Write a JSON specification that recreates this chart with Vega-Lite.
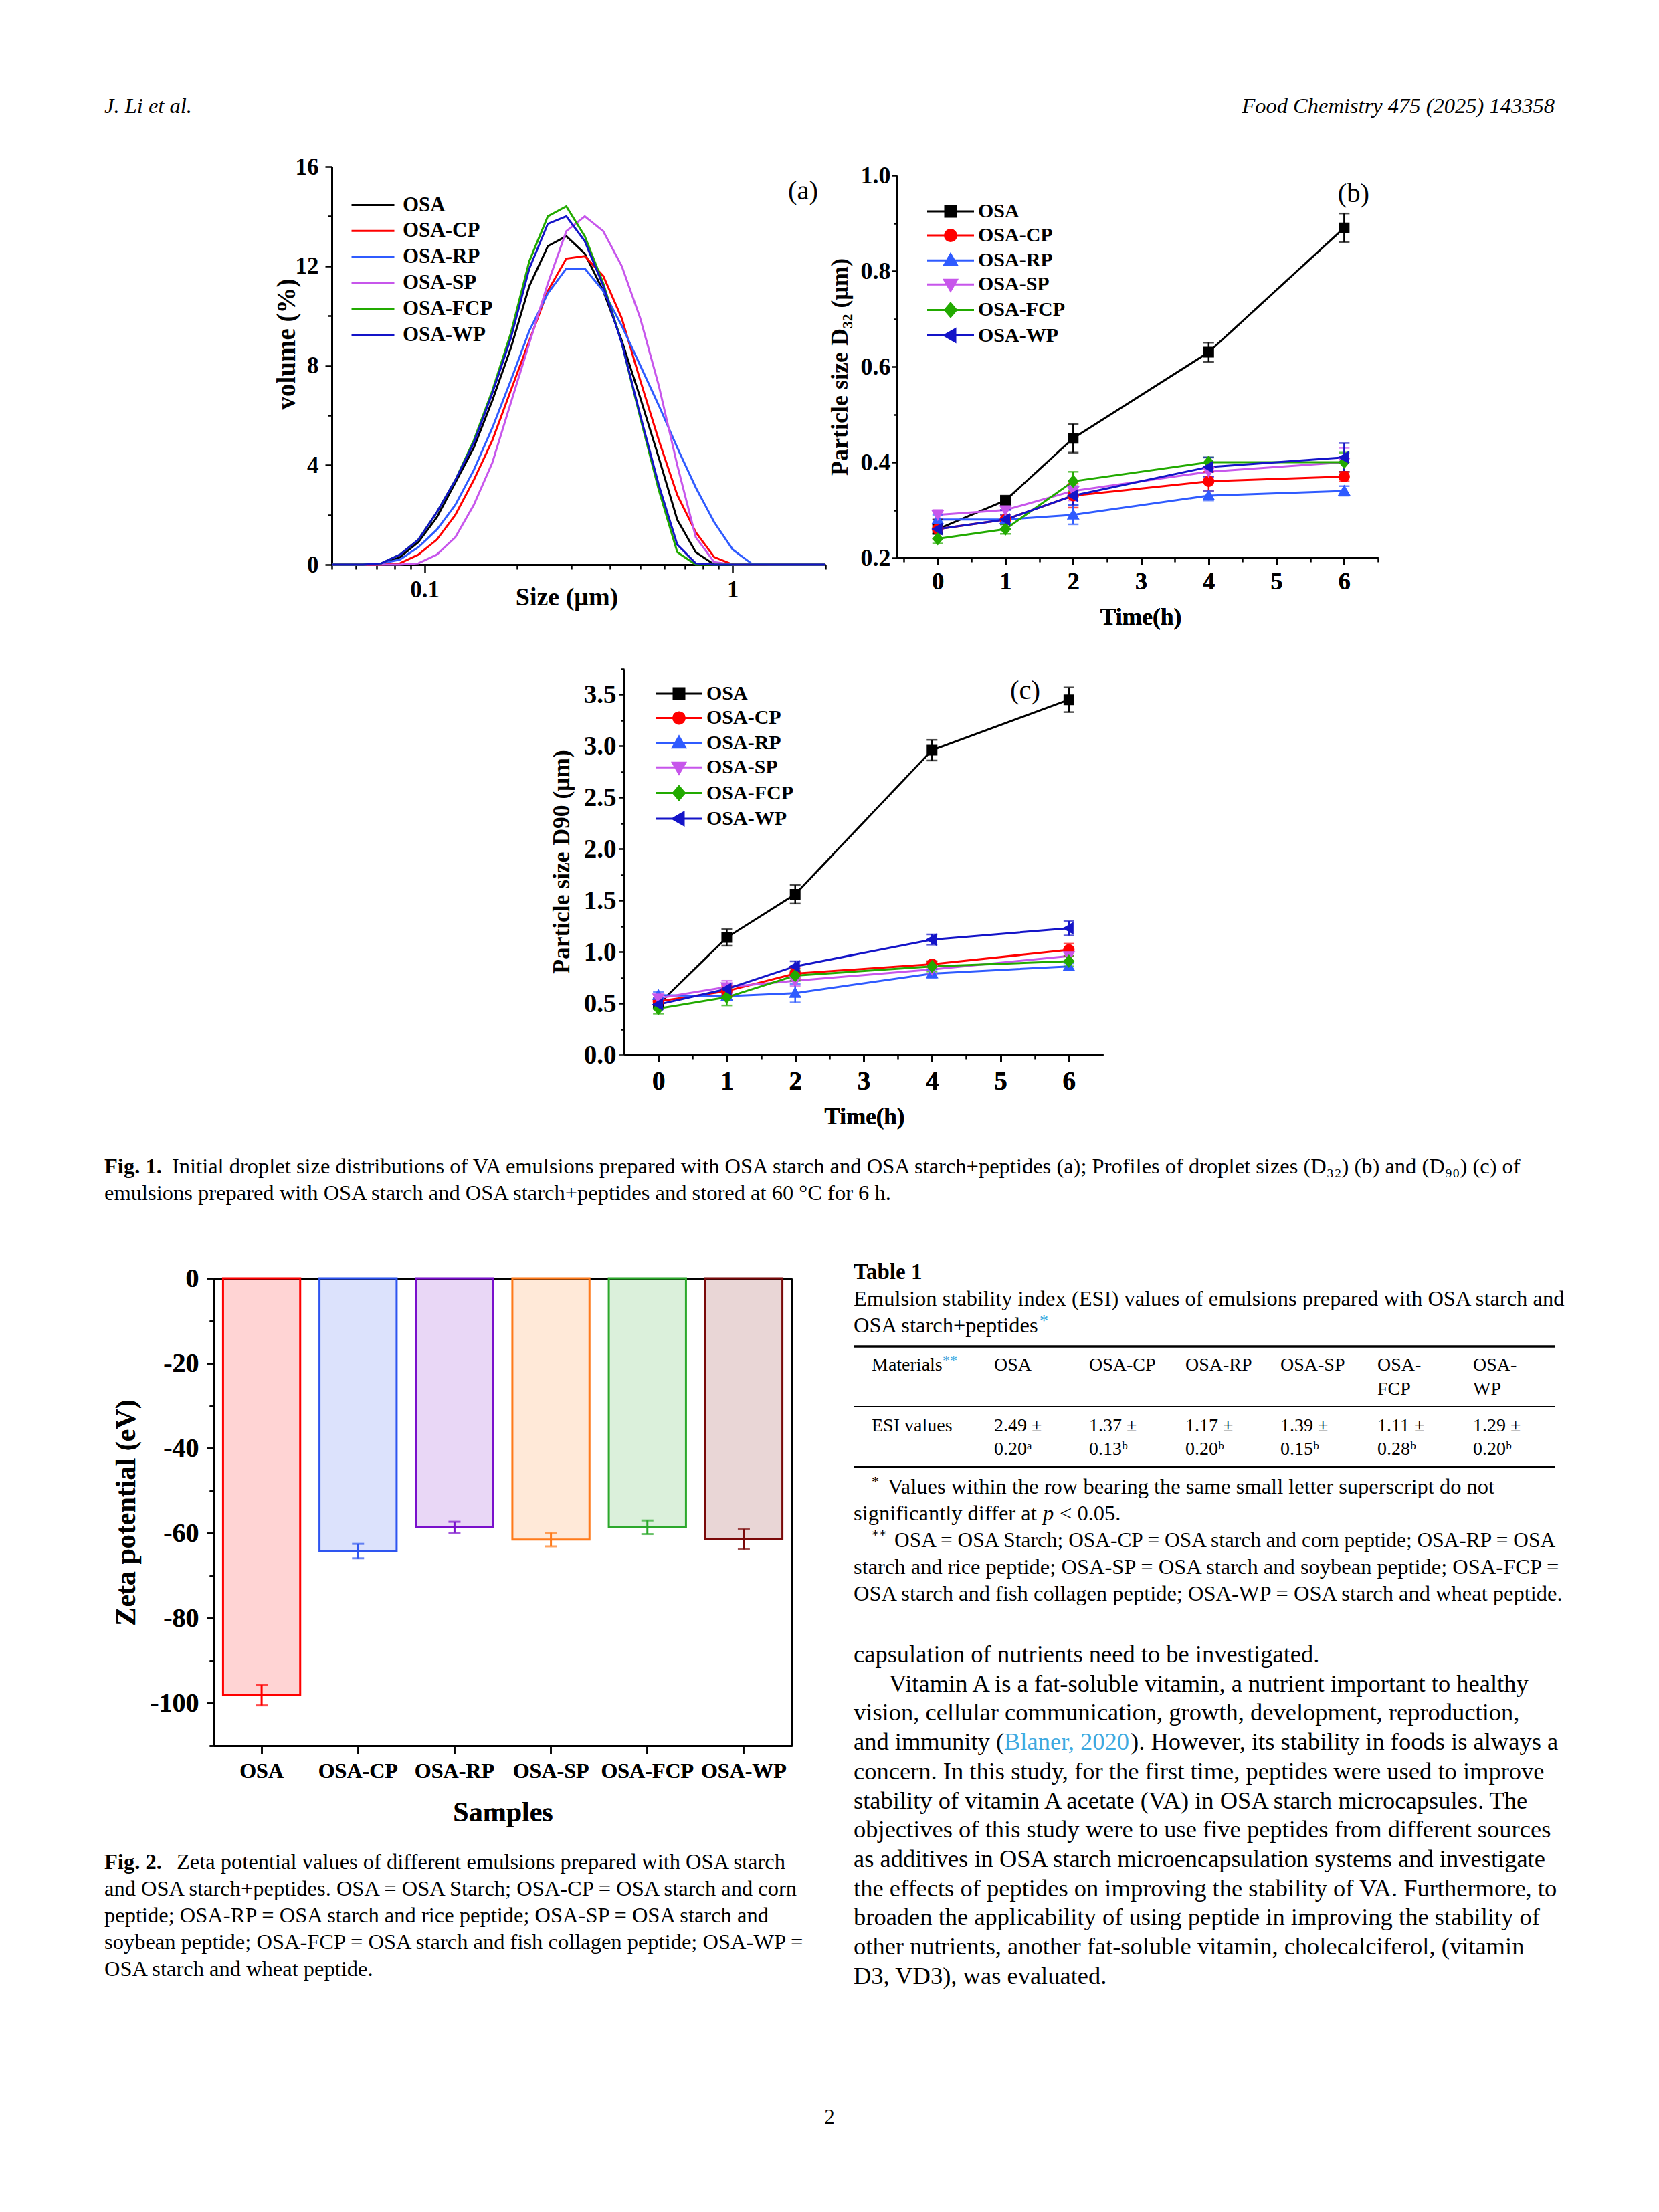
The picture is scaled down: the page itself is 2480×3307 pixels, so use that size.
{
"$schema": "https://vega.github.io/schema/vega-lite/v6.json",
"width": 2480, "height": 3307,
"autosize": {"type": "none"},
"padding": 0,
"background": "white",
"config": {
  "view": {"stroke": null},
  "font": "Liberation Serif",
  "axis": {"labelFont": "Liberation Serif", "titleFont": "Liberation Serif", "labelFontWeight": "bold", "titleFontWeight": "bold", "labelColor": "black", "titleColor": "black", "domainColor": "black", "tickColor": "black", "domainWidth": 3, "tickWidth": 2.5, "grid": false, "labelFlush": false, "labelOverlap": false},
  "legend": {"labelFont": "Liberation Serif", "labelFontWeight": "bold", "labelColor": "black"}
},
"resolve": {
  "scale": {"x": "independent", "y": "independent", "color": "independent", "shape": "independent", "stroke": "independent", "strokeWidth": "independent"},
  "axis": {"x": "independent", "y": "independent"},
  "legend": {"color": "independent", "shape": "independent"}
},
"datasets": {
  "dist": [
    {"s":0.05,"v":0,"g":"OSA"},{"s":0.0631,"v":0,"g":"OSA"},{"s":0.0724,"v":0,"g":"OSA"},{"s":0.0832,"v":0.3,"g":"OSA"},{"s":0.0955,"v":0.9,"g":"OSA"},{"s":0.1096,"v":1.9,"g":"OSA"},{"s":0.1259,"v":3.3,"g":"OSA"},{"s":0.1445,"v":4.7,"g":"OSA"},{"s":0.166,"v":6.6,"g":"OSA"},{"s":0.1905,"v":8.7,"g":"OSA"},{"s":0.2188,"v":11.2,"g":"OSA"},{"s":0.2512,"v":12.8,"g":"OSA"},{"s":0.2884,"v":13.2,"g":"OSA"},{"s":0.3311,"v":12.5,"g":"OSA"},{"s":0.3802,"v":11.0,"g":"OSA"},{"s":0.4365,"v":9.0,"g":"OSA"},{"s":0.5012,"v":6.7,"g":"OSA"},{"s":0.5754,"v":4.3,"g":"OSA"},{"s":0.6607,"v":1.8,"g":"OSA"},{"s":0.7586,"v":0.5,"g":"OSA"},{"s":0.871,"v":0,"g":"OSA"},{"s":1.0,"v":0,"g":"OSA"},{"s":1.148,"v":0,"g":"OSA"},{"s":1.318,"v":0,"g":"OSA"},{"s":2.0,"v":0,"g":"OSA"},
    {"s":0.05,"v":0,"g":"OSA-CP"},{"s":0.0631,"v":0,"g":"OSA-CP"},{"s":0.0724,"v":0,"g":"OSA-CP"},{"s":0.0832,"v":0.05,"g":"OSA-CP"},{"s":0.0955,"v":0.4,"g":"OSA-CP"},{"s":0.1096,"v":1.0,"g":"OSA-CP"},{"s":0.1259,"v":2.0,"g":"OSA-CP"},{"s":0.1445,"v":3.4,"g":"OSA-CP"},{"s":0.166,"v":5.0,"g":"OSA-CP"},{"s":0.1905,"v":7.0,"g":"OSA-CP"},{"s":0.2188,"v":9.0,"g":"OSA-CP"},{"s":0.2512,"v":11.0,"g":"OSA-CP"},{"s":0.2884,"v":12.3,"g":"OSA-CP"},{"s":0.3311,"v":12.4,"g":"OSA-CP"},{"s":0.3802,"v":11.6,"g":"OSA-CP"},{"s":0.4365,"v":9.9,"g":"OSA-CP"},{"s":0.5012,"v":7.4,"g":"OSA-CP"},{"s":0.5754,"v":5.0,"g":"OSA-CP"},{"s":0.6607,"v":2.8,"g":"OSA-CP"},{"s":0.7586,"v":1.3,"g":"OSA-CP"},{"s":0.871,"v":0.3,"g":"OSA-CP"},{"s":1.0,"v":0,"g":"OSA-CP"},{"s":1.148,"v":0,"g":"OSA-CP"},{"s":1.318,"v":0,"g":"OSA-CP"},{"s":2.0,"v":0,"g":"OSA-CP"},
    {"s":0.05,"v":0,"g":"OSA-RP"},{"s":0.0631,"v":0,"g":"OSA-RP"},{"s":0.0724,"v":0.05,"g":"OSA-RP"},{"s":0.0832,"v":0.2,"g":"OSA-RP"},{"s":0.0955,"v":0.7,"g":"OSA-RP"},{"s":0.1096,"v":1.4,"g":"OSA-RP"},{"s":0.1259,"v":2.4,"g":"OSA-RP"},{"s":0.1445,"v":3.8,"g":"OSA-RP"},{"s":0.166,"v":5.5,"g":"OSA-RP"},{"s":0.1905,"v":7.4,"g":"OSA-RP"},{"s":0.2188,"v":9.4,"g":"OSA-RP"},{"s":0.2512,"v":10.9,"g":"OSA-RP"},{"s":0.2884,"v":11.9,"g":"OSA-RP"},{"s":0.3311,"v":11.9,"g":"OSA-RP"},{"s":0.3802,"v":11.0,"g":"OSA-RP"},{"s":0.4365,"v":9.6,"g":"OSA-RP"},{"s":0.5012,"v":8.0,"g":"OSA-RP"},{"s":0.5754,"v":6.4,"g":"OSA-RP"},{"s":0.6607,"v":4.7,"g":"OSA-RP"},{"s":0.7586,"v":3.1,"g":"OSA-RP"},{"s":0.871,"v":1.7,"g":"OSA-RP"},{"s":1.0,"v":0.6,"g":"OSA-RP"},{"s":1.148,"v":0.05,"g":"OSA-RP"},{"s":1.318,"v":0,"g":"OSA-RP"},{"s":2.0,"v":0,"g":"OSA-RP"},
    {"s":0.05,"v":0,"g":"OSA-SP"},{"s":0.0631,"v":0,"g":"OSA-SP"},{"s":0.0724,"v":0,"g":"OSA-SP"},{"s":0.0832,"v":0,"g":"OSA-SP"},{"s":0.0955,"v":0.05,"g":"OSA-SP"},{"s":0.1096,"v":0.4,"g":"OSA-SP"},{"s":0.1259,"v":1.1,"g":"OSA-SP"},{"s":0.1445,"v":2.4,"g":"OSA-SP"},{"s":0.166,"v":4.1,"g":"OSA-SP"},{"s":0.1905,"v":6.5,"g":"OSA-SP"},{"s":0.2188,"v":8.9,"g":"OSA-SP"},{"s":0.2512,"v":11.3,"g":"OSA-SP"},{"s":0.2884,"v":13.4,"g":"OSA-SP"},{"s":0.3311,"v":14.0,"g":"OSA-SP"},{"s":0.3802,"v":13.4,"g":"OSA-SP"},{"s":0.4365,"v":12.0,"g":"OSA-SP"},{"s":0.5012,"v":9.9,"g":"OSA-SP"},{"s":0.5754,"v":7.2,"g":"OSA-SP"},{"s":0.6607,"v":4.0,"g":"OSA-SP"},{"s":0.7586,"v":1.1,"g":"OSA-SP"},{"s":0.871,"v":0.1,"g":"OSA-SP"},{"s":1.0,"v":0,"g":"OSA-SP"},{"s":1.148,"v":0,"g":"OSA-SP"},{"s":1.318,"v":0,"g":"OSA-SP"},{"s":2.0,"v":0,"g":"OSA-SP"},
    {"s":0.05,"v":0,"g":"OSA-FCP"},{"s":0.0631,"v":0,"g":"OSA-FCP"},{"s":0.0724,"v":0.05,"g":"OSA-FCP"},{"s":0.0832,"v":0.4,"g":"OSA-FCP"},{"s":0.0955,"v":1.0,"g":"OSA-FCP"},{"s":0.1096,"v":2.1,"g":"OSA-FCP"},{"s":0.1259,"v":3.4,"g":"OSA-FCP"},{"s":0.1445,"v":5.0,"g":"OSA-FCP"},{"s":0.166,"v":7.0,"g":"OSA-FCP"},{"s":0.1905,"v":9.3,"g":"OSA-FCP"},{"s":0.2188,"v":12.2,"g":"OSA-FCP"},{"s":0.2512,"v":14.0,"g":"OSA-FCP"},{"s":0.2884,"v":14.4,"g":"OSA-FCP"},{"s":0.3311,"v":13.2,"g":"OSA-FCP"},{"s":0.3802,"v":11.3,"g":"OSA-FCP"},{"s":0.4365,"v":8.9,"g":"OSA-FCP"},{"s":0.5012,"v":5.9,"g":"OSA-FCP"},{"s":0.5754,"v":3.0,"g":"OSA-FCP"},{"s":0.6607,"v":0.5,"g":"OSA-FCP"},{"s":0.7586,"v":0,"g":"OSA-FCP"},{"s":0.871,"v":0,"g":"OSA-FCP"},{"s":1.0,"v":0,"g":"OSA-FCP"},{"s":1.148,"v":0,"g":"OSA-FCP"},{"s":1.318,"v":0,"g":"OSA-FCP"},{"s":2.0,"v":0,"g":"OSA-FCP"},
    {"s":0.05,"v":0,"g":"OSA-WP"},{"s":0.0631,"v":0,"g":"OSA-WP"},{"s":0.0724,"v":0.05,"g":"OSA-WP"},{"s":0.0832,"v":0.4,"g":"OSA-WP"},{"s":0.0955,"v":1.0,"g":"OSA-WP"},{"s":0.1096,"v":2.1,"g":"OSA-WP"},{"s":0.1259,"v":3.4,"g":"OSA-WP"},{"s":0.1445,"v":4.9,"g":"OSA-WP"},{"s":0.166,"v":6.9,"g":"OSA-WP"},{"s":0.1905,"v":9.1,"g":"OSA-WP"},{"s":0.2188,"v":11.9,"g":"OSA-WP"},{"s":0.2512,"v":13.7,"g":"OSA-WP"},{"s":0.2884,"v":14.0,"g":"OSA-WP"},{"s":0.3311,"v":13.0,"g":"OSA-WP"},{"s":0.3802,"v":11.2,"g":"OSA-WP"},{"s":0.4365,"v":8.9,"g":"OSA-WP"},{"s":0.5012,"v":6.0,"g":"OSA-WP"},{"s":0.5754,"v":3.2,"g":"OSA-WP"},{"s":0.6607,"v":0.8,"g":"OSA-WP"},{"s":0.7586,"v":0.05,"g":"OSA-WP"},{"s":0.871,"v":0,"g":"OSA-WP"},{"s":1.0,"v":0,"g":"OSA-WP"},{"s":1.148,"v":0,"g":"OSA-WP"},{"s":1.318,"v":0,"g":"OSA-WP"},{"s":2.0,"v":0,"g":"OSA-WP"}
  ],
  "d32": [
    {"t":0,"v":0.26,"e":0.02,"g":"OSA"},{"t":1,"v":0.32,"e":0.01,"g":"OSA"},{"t":2,"v":0.45,"e":0.03,"g":"OSA"},{"t":4,"v":0.63,"e":0.02,"g":"OSA"},{"t":6,"v":0.89,"e":0.03,"g":"OSA"},
    {"t":0,"v":0.26,"e":0.01,"g":"OSA-CP"},{"t":1,"v":0.28,"e":0.01,"g":"OSA-CP"},{"t":2,"v":0.33,"e":0.025,"g":"OSA-CP"},{"t":4,"v":0.36,"e":0.02,"g":"OSA-CP"},{"t":6,"v":0.37,"e":0.01,"g":"OSA-CP"},
    {"t":0,"v":0.28,"e":0.01,"g":"OSA-RP"},{"t":1,"v":0.28,"e":0.01,"g":"OSA-RP"},{"t":2,"v":0.29,"e":0.02,"g":"OSA-RP"},{"t":4,"v":0.33,"e":0.01,"g":"OSA-RP"},{"t":6,"v":0.34,"e":0.01,"g":"OSA-RP"},
    {"t":0,"v":0.29,"e":0.01,"g":"OSA-SP"},{"t":1,"v":0.30,"e":0.01,"g":"OSA-SP"},{"t":2,"v":0.34,"e":0.02,"g":"OSA-SP"},{"t":4,"v":0.38,"e":0.01,"g":"OSA-SP"},{"t":6,"v":0.40,"e":0.03,"g":"OSA-SP"},
    {"t":0,"v":0.24,"e":0.01,"g":"OSA-FCP"},{"t":1,"v":0.26,"e":0.01,"g":"OSA-FCP"},{"t":2,"v":0.36,"e":0.02,"g":"OSA-FCP"},{"t":4,"v":0.40,"e":0.01,"g":"OSA-FCP"},{"t":6,"v":0.40,"e":0.02,"g":"OSA-FCP"},
    {"t":0,"v":0.26,"e":0.01,"g":"OSA-WP"},{"t":1,"v":0.28,"e":0.02,"g":"OSA-WP"},{"t":2,"v":0.33,"e":0.02,"g":"OSA-WP"},{"t":4,"v":0.39,"e":0.02,"g":"OSA-WP"},{"t":6,"v":0.41,"e":0.03,"g":"OSA-WP"}
  ],
  "d90": [
    {"t":0,"v":0.49,"e":0.03,"g":"OSA"},{"t":1,"v":1.14,"e":0.08,"g":"OSA"},{"t":2,"v":1.56,"e":0.09,"g":"OSA"},{"t":4,"v":2.96,"e":0.10,"g":"OSA"},{"t":6,"v":3.45,"e":0.12,"g":"OSA"},
    {"t":0,"v":0.52,"e":0.03,"g":"OSA-CP"},{"t":1,"v":0.62,"e":0.05,"g":"OSA-CP"},{"t":2,"v":0.79,"e":0.05,"g":"OSA-CP"},{"t":4,"v":0.88,"e":0.03,"g":"OSA-CP"},{"t":6,"v":1.02,"e":0.06,"g":"OSA-CP"},
    {"t":0,"v":0.58,"e":0.03,"g":"OSA-RP"},{"t":1,"v":0.57,"e":0.04,"g":"OSA-RP"},{"t":2,"v":0.60,"e":0.09,"g":"OSA-RP"},{"t":4,"v":0.79,"e":0.04,"g":"OSA-RP"},{"t":6,"v":0.86,"e":0.03,"g":"OSA-RP"},
    {"t":0,"v":0.55,"e":0.03,"g":"OSA-SP"},{"t":1,"v":0.66,"e":0.06,"g":"OSA-SP"},{"t":2,"v":0.72,"e":0.05,"g":"OSA-SP"},{"t":4,"v":0.83,"e":0.04,"g":"OSA-SP"},{"t":6,"v":0.96,"e":0.05,"g":"OSA-SP"},
    {"t":0,"v":0.45,"e":0.05,"g":"OSA-FCP"},{"t":1,"v":0.56,"e":0.08,"g":"OSA-FCP"},{"t":2,"v":0.77,"e":0.05,"g":"OSA-FCP"},{"t":4,"v":0.86,"e":0.05,"g":"OSA-FCP"},{"t":6,"v":0.91,"e":0.05,"g":"OSA-FCP"},
    {"t":0,"v":0.49,"e":0.03,"g":"OSA-WP"},{"t":1,"v":0.64,"e":0.05,"g":"OSA-WP"},{"t":2,"v":0.86,"e":0.05,"g":"OSA-WP"},{"t":4,"v":1.12,"e":0.05,"g":"OSA-WP"},{"t":6,"v":1.23,"e":0.07,"g":"OSA-WP"}
  ],
  "zeta": [
    {"s":"OSA","z":-98.1,"e":2.4},{"s":"OSA-CP","z":-64.2,"e":1.7},{"s":"OSA-RP","z":-58.6,"e":1.3},{"s":"OSA-SP","z":-61.5,"e":1.6},{"s":"OSA-FCP","z":-58.6,"e":1.6},{"s":"OSA-WP","z":-61.4,"e":2.4}
  ]
},
"layer": [
  {"encoding":{"y":{"field":"ln","type":"quantitative","scale":{"domain":[0,1],"range":[169,209]},"axis":null},
               "x":{"field":"c","type":"quantitative","scale":{"domain":[0,1],"range":[156,2324]},"axis":null},
               "text":{"field":"t","type":"nominal"}},
   "layer":[
     {"data":{"values":[{"ln":0,"c":0,"t":"J. Li et al."}]},"mark":{"type":"text","align":"left","baseline":"alphabetic","fontSize":32.5,"fontStyle":"italic","font":"Liberation Serif","color":"black"}},
     {"data":{"values":[{"ln":0,"c":1,"t":"Food Chemistry 475 (2025) 143358"}]},"mark":{"type":"text","align":"right","baseline":"alphabetic","fontSize":32.5,"fontStyle":"italic","font":"Liberation Serif","color":"black"}}
   ]},

  {"data":{"name":"dist"},
   "encoding":{
     "x":{"field":"s","type":"quantitative","scale":{"type":"log","domain":[0.05,2],"range":[496,1234],"nice":false},
       "axis":{"orient":"bottom","offset":-2463,"title":"Size (μm)","values":[0.05,0.06,0.07,0.08,0.09,0.1,0.2,0.3,0.4,0.5,0.6,0.7,0.8,0.9,1,2],"format":"~g",
         "labelExpr":"datum.value == 0.1 || datum.value == 1 ? datum.label : ''",
         "tickSize":{"condition":{"test":"datum.value == 0.1 || datum.value == 1","value":12},"value":7},
         "labelFontSize":35,"labelPadding":8,"titleFontSize":38,"titleX":847,"titleY":60,"titleBaseline":"alphabetic","titleAlign":"center"}},
     "y":{"field":"v","type":"quantitative","scale":{"domain":[0,16],"range":[844,249],"nice":false},
       "axis":{"orient":"left","offset":-496,"title":"volume (%)","values":[0,2,4,6,8,10,12,14,16],
         "labelExpr":"datum.value % 4 == 0 ? datum.label : ''",
         "tickSize":{"condition":{"test":"datum.value % 4 == 0","value":10},"value":6},
         "labelFontSize":35,"labelPadding":10,"titleFontSize":39,"titleX":-56,"titleY":514,"titleAngle":-90,"titleBaseline":"alphabetic","titleAlign":"center"}}
   },
   "layer":[
     {"mark":{"type":"line","strokeWidth":3},
      "encoding":{"color":{"field":"g","type":"nominal","scale":{"domain":["OSA","OSA-CP","OSA-RP","OSA-SP","OSA-FCP","OSA-WP"],"range":["#000000","#FF0000","#2F5BFF","#C756EB","#22AA00","#1414C8"]},
        "legend":{"title":null,"orient":"none","legendX":542,"legendY":291,"padding":0,"symbolType":"M-3.2,0H3.2","symbolSize":400,"symbolStrokeWidth":3,"labelFontSize":31,"labelOffset":29,"rowPadding":6.8,"labelFont":"Liberation Serif","labelFontWeight":"bold","labelColor":"black"}}}},
     {"data":{"values":[{}]},"mark":{"type":"rect","fillOpacity":0,"stroke":"black","strokeWidth":3},
      "encoding":{"x":{"datum":0.05,"type":"quantitative"},"x2":{"datum":2},"y":{"datum":0,"type":"quantitative"},"y2":{"datum":16}}}
   ]},

  {"data":{"name":"d32"},
   "encoding":{
     "x":{"field":"t","type":"quantitative","scale":{"domain":[-0.6,6.5],"range":[1341,2060],"nice":false,"zero":false},
       "axis":{"orient":"bottom","offset":-2473,"title":"Time(h)","values":[0,1,2,3,4,5,6],"tickSize":10,
         "labelFontSize":36,"labelPadding":8,"titleFontSize":35.5,"titleX":1705,"titleY":99,"titleBaseline":"alphabetic","titleAlign":"center"}},
     "y":{"field":"v","type":"quantitative","scale":{"domain":[0.2,1.0],"range":[834,262],"nice":false,"zero":false},
       "axis":{"orient":"left","offset":-1341,"title":"Particle size D₃₂ (μm)","values":[0.2,0.3,0.4,0.5,0.6,0.7,0.8,0.9,1.0],"format":".1f",
         "labelExpr":"round(datum.value*10) % 2 == 0 ? datum.label : ''",
         "tickSize":{"condition":{"test":"round(datum.value*10) % 2 == 0","value":8},"value":5},
         "labelFontSize":36,"labelPadding":2,"titleFontSize":36,"titleX":-75,"titleY":548,"titleAngle":-90,"titleBaseline":"alphabetic","titleAlign":"center"}}
   },
   "layer":[
     {"mark":{"type":"line","strokeWidth":3},
      "encoding":{"color":{"field":"g","type":"nominal","scale":{"domain":["OSA","OSA-CP","OSA-RP","OSA-SP","OSA-FCP","OSA-WP"],"range":["#000000","#FF0000","#2F5BFF","#C756EB","#22AA00","#1414C8"]},
        "legend":{"title":null,"orient":"none","legendX":1406,"legendY":301,"padding":0,"symbolSize":400,"symbolStrokeWidth":3,"symbolOpacity":1,"labelFontSize":30,"labelOffset":26,"rowPadding":6.1,"labelFont":"Liberation Serif","labelFontWeight":"bold","labelColor":"black"}}}},
     {"mark":{"type":"errorbar","ticks":{"size":16},"thickness":2.5},
      "encoding":{"yError":{"field":"e"},"color":{"field":"g","type":"nominal","scale":{"domain":["OSA","OSA-CP","OSA-RP","OSA-SP","OSA-FCP","OSA-WP"],"range":["#000000","#FF0000","#2F5BFF","#C756EB","#22AA00","#1414C8"]},
        "legend":{"title":null,"orient":"none","legendX":1406,"legendY":301,"padding":0,"symbolSize":400,"symbolStrokeWidth":3,"symbolOpacity":1,"labelFontSize":30,"labelOffset":26,"rowPadding":6.1,"labelFont":"Liberation Serif","labelFontWeight":"bold","labelColor":"black"}}}},
     {"mark":{"type":"point","filled":true,"size":400,"opacity":1},
      "encoding":{"color":{"field":"g","type":"nominal","scale":{"domain":["OSA","OSA-CP","OSA-RP","OSA-SP","OSA-FCP","OSA-WP"],"range":["#000000","#FF0000","#2F5BFF","#C756EB","#22AA00","#1414C8"]},
        "legend":{"title":null,"orient":"none","legendX":1406,"legendY":301,"padding":0,"symbolSize":400,"symbolStrokeWidth":3,"symbolOpacity":1,"labelFontSize":30,"labelOffset":26,"rowPadding":6.1,"labelFont":"Liberation Serif","labelFontWeight":"bold","labelColor":"black"}},
        "shape":{"field":"g","type":"nominal","scale":{"domain":["OSA","OSA-CP","OSA-RP","OSA-SP","OSA-FCP","OSA-WP"],"range":["M-3.5,0H3.5M-0.8,-0.8H0.8V0.8H-0.8Z","M-3.5,0H3.5M-0.85,0A0.85,0.85,0,1,1,0.85,0A0.85,0.85,0,1,1,-0.85,0Z","M-3.5,0H3.5M0,-0.95L0.95,0.7L-0.95,0.7Z","M-3.5,0H3.5M0,0.95L0.95,-0.7L-0.95,-0.7Z","M-3.5,0H3.5M0,-1L0.85,0L0,1L-0.85,0Z","M-3.5,0H3.5M-0.95,0L0.7,-0.95L0.7,0.95Z"]},
        "legend":{"title":null,"orient":"none","legendX":1406,"legendY":301,"padding":0,"symbolSize":400,"symbolStrokeWidth":3,"symbolOpacity":1,"labelFontSize":30,"labelOffset":26,"rowPadding":6.1,"labelFont":"Liberation Serif","labelFontWeight":"bold","labelColor":"black"}}}},
     {"data":{"values":[{}]},"mark":{"type":"rect","fillOpacity":0,"stroke":"black","strokeWidth":3},
      "encoding":{"x":{"datum":-0.6,"type":"quantitative","axis":{"orient":"bottom","offset":-2473,"values":[-0.5,0.5,1.5,2.5,3.5,4.5,5.5,6.5],"labels":false,"tickSize":6,"title":null,"domain":false}},"x2":{"datum":6.5},"y":{"datum":0.2,"type":"quantitative"},"y2":{"datum":1.0}}}
   ],
   "resolve":{"axis":{"x":"independent"}}},

  {"data":{"name":"d90"},
   "encoding":{
     "x":{"field":"t","type":"quantitative","scale":{"domain":[-0.5,6.5],"range":[933,1649],"nice":false,"zero":false},
       "axis":{"orient":"bottom","offset":-1730,"title":"Time(h)","values":[0,1,2,3,4,5,6],"tickSize":10,
         "labelFontSize":39,"labelPadding":10,"titleFontSize":35,"titleX":1292,"titleY":103,"titleBaseline":"alphabetic","titleAlign":"center"}},
     "y":{"field":"v","type":"quantitative","scale":{"domain":[0,3.75],"range":[1577,1000],"nice":false,"zero":false},
       "axis":{"orient":"left","offset":-933,"title":"Particle size D90 (μm)","values":[0,0.25,0.5,0.75,1,1.25,1.5,1.75,2,2.25,2.5,2.75,3,3.25,3.5,3.75],"format":".1f",
         "labelExpr":"round(datum.value*4) % 2 == 0 ? datum.label : ''",
         "tickSize":{"condition":{"test":"round(datum.value*4) % 2 == 0","value":8},"value":5},
         "labelFontSize":39,"labelPadding":4,"titleFontSize":35.5,"titleX":-83,"titleY":1288,"titleAngle":-90,"titleBaseline":"alphabetic","titleAlign":"center"}}
   },
   "layer":[
     {"mark":{"type":"line","strokeWidth":3},
      "encoding":{"color":{"field":"g","type":"nominal","scale":{"domain":["OSA","OSA-CP","OSA-RP","OSA-SP","OSA-FCP","OSA-WP"],"range":["#000000","#FF0000","#2F5BFF","#C756EB","#22AA00","#1414C8"]},
        "legend":{"title":null,"orient":"none","legendX":1000,"legendY":1022,"padding":0,"symbolSize":400,"symbolStrokeWidth":3,"symbolOpacity":1,"labelFontSize":30,"labelOffset":26,"rowPadding":6.4,"labelFont":"Liberation Serif","labelFontWeight":"bold","labelColor":"black"}}}},
     {"mark":{"type":"errorbar","ticks":{"size":16},"thickness":2.5},
      "encoding":{"yError":{"field":"e"},"color":{"field":"g","type":"nominal","scale":{"domain":["OSA","OSA-CP","OSA-RP","OSA-SP","OSA-FCP","OSA-WP"],"range":["#000000","#FF0000","#2F5BFF","#C756EB","#22AA00","#1414C8"]},
        "legend":{"title":null,"orient":"none","legendX":1000,"legendY":1022,"padding":0,"symbolSize":400,"symbolStrokeWidth":3,"symbolOpacity":1,"labelFontSize":30,"labelOffset":26,"rowPadding":6.4,"labelFont":"Liberation Serif","labelFontWeight":"bold","labelColor":"black"}}}},
     {"mark":{"type":"point","filled":true,"size":400,"opacity":1},
      "encoding":{"color":{"field":"g","type":"nominal","scale":{"domain":["OSA","OSA-CP","OSA-RP","OSA-SP","OSA-FCP","OSA-WP"],"range":["#000000","#FF0000","#2F5BFF","#C756EB","#22AA00","#1414C8"]},
        "legend":{"title":null,"orient":"none","legendX":1000,"legendY":1022,"padding":0,"symbolSize":400,"symbolStrokeWidth":3,"symbolOpacity":1,"labelFontSize":30,"labelOffset":26,"rowPadding":6.4,"labelFont":"Liberation Serif","labelFontWeight":"bold","labelColor":"black"}},
        "shape":{"field":"g","type":"nominal","scale":{"domain":["OSA","OSA-CP","OSA-RP","OSA-SP","OSA-FCP","OSA-WP"],"range":["M-3.5,0H3.5M-0.8,-0.8H0.8V0.8H-0.8Z","M-3.5,0H3.5M-0.85,0A0.85,0.85,0,1,1,0.85,0A0.85,0.85,0,1,1,-0.85,0Z","M-3.5,0H3.5M0,-0.95L0.95,0.7L-0.95,0.7Z","M-3.5,0H3.5M0,0.95L0.95,-0.7L-0.95,-0.7Z","M-3.5,0H3.5M0,-1L0.85,0L0,1L-0.85,0Z","M-3.5,0H3.5M-0.95,0L0.7,-0.95L0.7,0.95Z"]},
        "legend":{"title":null,"orient":"none","legendX":1000,"legendY":1022,"padding":0,"symbolSize":400,"symbolStrokeWidth":3,"symbolOpacity":1,"labelFontSize":30,"labelOffset":26,"rowPadding":6.4,"labelFont":"Liberation Serif","labelFontWeight":"bold","labelColor":"black"}}}},
     {"data":{"values":[{}]},"mark":{"type":"rect","fillOpacity":0,"stroke":"black","strokeWidth":3},
      "encoding":{"x":{"datum":-0.5,"type":"quantitative","axis":{"orient":"bottom","offset":-1730,"values":[0.5,1.5,2.5,3.5,4.5,5.5],"labels":false,"tickSize":6,"title":null,"domain":false}},"x2":{"datum":6.5},"y":{"datum":0,"type":"quantitative"},"y2":{"datum":3.75}}}
   ],
   "resolve":{"axis":{"x":"independent"}}},

  {"data":{"values":[{"p":0,"lab":"(a)"},{"p":1,"lab":"(b)"},{"p":2,"lab":"(c)"}]},
   "mark":{"type":"text","align":"right","baseline":"alphabetic","fontSize":40.5,"font":"Liberation Serif","color":"black"},
   "encoding":{"x":{"field":"p","type":"quantitative","scale":{"domain":[0,1,2],"range":[1223,2047,1555],"nice":false,"zero":false},"axis":null},
               "y":{"field":"p","type":"quantitative","scale":{"domain":[0,1,2],"range":[298,302,1045],"nice":false,"zero":false},"axis":null},
               "text":{"field":"lab","type":"nominal"}}},

  {"encoding":{"y":{"field":"ln","type":"quantitative","scale":{"domain":[0,1],"range":[1754,1794]},"axis":null},
               "x":{"field":"c","type":"quantitative","scale":{"domain":[0,1],"range":[156,2324]},"axis":null},
               "text":{"field":"t","type":"nominal"}},
   "layer":[
     {"data":{"values":[{"ln":0,"c":0,"t":"Fig. 1."}]},"mark":{"type":"text","align":"left","baseline":"alphabetic","fontSize":32.5,"fontWeight":"bold","font":"Liberation Serif","color":"black"}},
     {"data":{"values":[{"ln":0,"c":0,"t":"Initial droplet size distributions of VA emulsions prepared with OSA starch and OSA starch+peptides (a); Profiles of droplet sizes (D₃₂) (b) and (D₉₀) (c) of"}]},"mark":{"type":"text","align":"left","baseline":"alphabetic","fontSize":32.5,"font":"Liberation Serif","color":"black","dx":101}},
     {"data":{"values":[{"ln":1,"c":0,"t":"emulsions prepared with OSA starch and OSA starch+peptides and stored at 60 °C for 6 h."}]},"mark":{"type":"text","align":"left","baseline":"alphabetic","fontSize":32.5,"font":"Liberation Serif","color":"black"}}
   ]},

  {"data":{"name":"zeta"},
   "encoding":{
     "x":{"field":"s","type":"nominal","sort":null,"scale":{"range":[319,1184],"paddingInner":0.2,"paddingOuter":0.1},
       "axis":{"orient":"bottom","offset":-697,"title":"Samples","labelAngle":0,"labelFontSize":32,"tickSize":12,"labelPadding":10,"bandPosition":0.5,"titleFontSize":42,"titleY":112,"titleBaseline":"alphabetic"}},
     "y":{"field":"z","type":"quantitative","scale":{"domain":[-110,0],"range":[2610,1911],"nice":false,"zero":false},
       "axis":{"orient":"left","offset":-319,"title":"Zeta potential (eV)","values":[-110,-100,-90,-80,-70,-60,-50,-40,-30,-20,-10,0],
         "labelExpr":"datum.value % 20 == 0 ? (datum.value < 0 ? '-' + (-datum.value) : '0') : ''",
         "tickSize":{"condition":{"test":"datum.value % 20 == 0","value":10},"value":6},
         "labelFontSize":40,"labelPadding":12,"titleFontSize":42,"titleX":-118,"titleY":2261,"titleAngle":-90,"titleBaseline":"alphabetic","titleAlign":"center"}}
   },
   "layer":[
     {"mark":{"type":"bar","fillOpacity":0.17,"strokeWidth":3},
      "encoding":{"color":{"field":"s","type":"nominal","scale":{"domain":["OSA","OSA-CP","OSA-RP","OSA-SP","OSA-FCP","OSA-WP"],"range":["#FF0000","#2E55F0","#7A10CC","#FF7A1A","#2CA82C","#7A0A0A"]},"legend":null},
                  "stroke":{"field":"s","type":"nominal","scale":{"domain":["OSA","OSA-CP","OSA-RP","OSA-SP","OSA-FCP","OSA-WP"],"range":["#FF0000","#2E55F0","#7A10CC","#FF7A1A","#2CA82C","#7A0A0A"]},"legend":null}}},
     {"mark":{"type":"errorbar","ticks":{"size":18},"thickness":3},
      "encoding":{"yError":{"field":"e"},"color":{"field":"s","type":"nominal","scale":{"domain":["OSA","OSA-CP","OSA-RP","OSA-SP","OSA-FCP","OSA-WP"],"range":["#FF0000","#2E55F0","#7A10CC","#FF7A1A","#2CA82C","#7A0A0A"]},"legend":null}}},
     {"mark":{"type":"bar","opacity":0},
      "encoding":{"x":{"field":"s","type":"nominal","sort":null,"axis":{"orient":"top","offset":-1911,"labels":false,"ticks":false,"title":null,"domainWidth":3}},
                  "y":{"field":"z","type":"quantitative","axis":{"orient":"right","offset":-1296,"labels":false,"ticks":false,"title":null,"domainWidth":3}}}}
   ],
   "resolve":{"axis":{"x":"independent","y":"independent"}}},

  {"encoding":{"y":{"field":"ln","type":"quantitative","scale":{"domain":[0,4],"range":[2794,2954]},"axis":null},
               "x":{"field":"c","type":"quantitative","scale":{"domain":[0,1],"range":[156,1202]},"axis":null},
               "text":{"field":"t","type":"nominal"}},
   "layer":[
     {"data":{"values":[{"ln":0,"c":0,"t":"Fig. 2."}]},"mark":{"type":"text","align":"left","baseline":"alphabetic","fontSize":32.5,"fontWeight":"bold","font":"Liberation Serif","color":"black"}},
     {"data":{"values":[{"ln":0,"c":0,"t":"Zeta potential values of different emulsions prepared with OSA starch"}]},"mark":{"type":"text","align":"left","baseline":"alphabetic","fontSize":32.5,"font":"Liberation Serif","color":"black","dx":108}},
     {"data":{"values":[
       {"ln":1,"c":0,"t":"and OSA starch+peptides. OSA = OSA Starch; OSA-CP = OSA starch and corn"},
       {"ln":2,"c":0,"t":"peptide; OSA-RP = OSA starch and rice peptide; OSA-SP = OSA starch and"},
       {"ln":3,"c":0,"t":"soybean peptide; OSA-FCP = OSA starch and fish collagen peptide; OSA-WP ="},
       {"ln":4,"c":0,"t":"OSA starch and wheat peptide."}]},"mark":{"type":"text","align":"left","baseline":"alphabetic","fontSize":32.5,"font":"Liberation Serif","color":"black"}}
   ]},

  {"encoding":{"y":{"field":"ln","type":"quantitative","scale":{"domain":[0,2],"range":[1912,1992]},"axis":null},
               "x":{"field":"c","type":"quantitative","scale":{"domain":[0,1],"range":[1276,2324]},"axis":null},
               "text":{"field":"t","type":"nominal"}},
   "layer":[
     {"data":{"values":[{"ln":0,"c":0,"t":"Table 1"}]},"mark":{"type":"text","align":"left","baseline":"alphabetic","fontSize":33,"fontWeight":"bold","font":"Liberation Serif","color":"black"}},
     {"data":{"values":[
       {"ln":1,"c":0,"t":"Emulsion stability index (ESI) values of emulsions prepared with OSA starch and"},
       {"ln":2,"c":0,"t":"OSA starch+peptides"}]},"mark":{"type":"text","align":"left","baseline":"alphabetic","fontSize":32.5,"font":"Liberation Serif","color":"black"}},
     {"data":{"values":[{"ln":2,"c":0,"t":"*"}]},"mark":{"type":"text","align":"left","baseline":"alphabetic","fontSize":26,"font":"Liberation Serif","color":"#3DA9E0","dx":278,"dy":-9}}
   ]},

  {"data":{"values":[{"r":0,"k":"outer"},{"r":1,"k":"inner"},{"r":2,"k":"outer"}]},
   "mark":{"type":"rule","color":"black"},
   "encoding":{"x":{"datum":0,"type":"quantitative","scale":{"domain":[0,1],"range":[1276,2324]},"axis":null},"x2":{"datum":1},
     "y":{"field":"r","type":"quantitative","scale":{"domain":[0,2],"range":[2013,2193],"nice":false},"axis":null},
     "strokeWidth":{"field":"k","type":"nominal","scale":{"domain":["outer","inner"],"range":[3.5,2]},"legend":null}}},

  {"encoding":{
     "x":{"field":"ci","type":"quantitative","scale":{"domain":[0,1,2,3,4,5,6],"range":[1303,1486,1628,1772,1914,2059,2202],"nice":false,"zero":false},"axis":null},
     "y":{"field":"ln","type":"quantitative","scale":{"domain":[0,1,2,3],"range":[2049,2085,2140,2175],"nice":false,"zero":false},"axis":null},
     "text":{"field":"t","type":"nominal"}},
   "layer":[
     {"data":{"values":[
       {"ci":0,"ln":0,"t":"Materials"},{"ci":1,"ln":0,"t":"OSA"},{"ci":2,"ln":0,"t":"OSA-CP"},{"ci":3,"ln":0,"t":"OSA-RP"},{"ci":4,"ln":0,"t":"OSA-SP"},{"ci":5,"ln":0,"t":"OSA-"},{"ci":6,"ln":0,"t":"OSA-"},
       {"ci":5,"ln":1,"t":"FCP"},{"ci":6,"ln":1,"t":"WP"},
       {"ci":0,"ln":2,"t":"ESI values"},{"ci":1,"ln":2,"t":"2.49 ±"},{"ci":2,"ln":2,"t":"1.37 ±"},{"ci":3,"ln":2,"t":"1.17 ±"},{"ci":4,"ln":2,"t":"1.39 ±"},{"ci":5,"ln":2,"t":"1.11 ±"},{"ci":6,"ln":2,"t":"1.29 ±"},
       {"ci":1,"ln":3,"t":"0.20ᵃ"},{"ci":2,"ln":3,"t":"0.13ᵇ"},{"ci":3,"ln":3,"t":"0.20ᵇ"},{"ci":4,"ln":3,"t":"0.15ᵇ"},{"ci":5,"ln":3,"t":"0.28ᵇ"},{"ci":6,"ln":3,"t":"0.20ᵇ"}]},
      "mark":{"type":"text","align":"left","baseline":"alphabetic","fontSize":28,"font":"Liberation Serif","color":"black"}},
     {"data":{"values":[{"ci":0,"ln":0,"t":"**"}]},
      "mark":{"type":"text","align":"left","baseline":"alphabetic","fontSize":22,"font":"Liberation Serif","color":"#3DA9E0","dx":106,"dy":-8}}
   ]},

  {"encoding":{"y":{"field":"ln","type":"quantitative","scale":{"domain":[0,4],"range":[2233,2393]},"axis":null},
               "x":{"field":"c","type":"quantitative","scale":{"domain":[0,1],"range":[1276,2324]},"axis":null},
               "text":{"field":"t","type":"nominal"}},
   "layer":[
     {"data":{"values":[{"ln":0,"c":0,"t":"*"},{"ln":2,"c":0,"t":"**"}]},
      "mark":{"type":"text","align":"left","baseline":"alphabetic","fontSize":22,"font":"Liberation Serif","color":"black","dx":27,"dy":-11}},
     {"data":{"values":[{"ln":0,"c":0,"t":"Values within the row bearing the same small letter superscript do not"}]},
      "mark":{"type":"text","align":"left","baseline":"alphabetic","fontSize":32.5,"font":"Liberation Serif","color":"black","dx":51}},
     {"data":{"values":[{"ln":1,"c":0,"t":"significantly differ at"}]},
      "mark":{"type":"text","align":"left","baseline":"alphabetic","fontSize":32.5,"font":"Liberation Serif","color":"black"}},
     {"data":{"values":[{"ln":1,"c":0,"t":"p"}]},
      "mark":{"type":"text","align":"left","baseline":"alphabetic","fontSize":32.5,"fontStyle":"italic","font":"Liberation Serif","color":"black","dx":283}},
     {"data":{"values":[{"ln":1,"c":0,"t":"< 0.05."}]},
      "mark":{"type":"text","align":"left","baseline":"alphabetic","fontSize":32.5,"font":"Liberation Serif","color":"black","dx":308}},
     {"data":{"values":[{"ln":2,"c":0,"t":"OSA = OSA Starch; OSA-CP = OSA starch and corn peptide; OSA-RP = OSA"}]},
      "mark":{"type":"text","align":"left","baseline":"alphabetic","fontSize":31.4,"font":"Liberation Serif","color":"black","dx":61}},
     {"data":{"values":[
       {"ln":3,"c":0,"t":"starch and rice peptide; OSA-SP = OSA starch and soybean peptide; OSA-FCP ="},
       {"ln":4,"c":0,"t":"OSA starch and fish collagen peptide; OSA-WP = OSA starch and wheat peptide."}]},
      "mark":{"type":"text","align":"left","baseline":"alphabetic","fontSize":32.5,"font":"Liberation Serif","color":"black"}}
   ]},

  {"encoding":{"y":{"field":"ln","type":"quantitative","scale":{"domain":[0,11],"range":[2485,2965.7]},"axis":null},
               "x":{"field":"c","type":"quantitative","scale":{"domain":[0,1],"range":[1276,2324]},"axis":null},
               "text":{"field":"t","type":"nominal"}},
   "layer":[
     {"data":{"values":[
       {"ln":0,"c":0,"t":"capsulation of nutrients need to be investigated."},
       {"ln":2,"c":0,"t":"vision, cellular communication, growth, development, reproduction,"},
       {"ln":3,"c":0,"t":"and immunity ("},
       {"ln":4,"c":0,"t":"concern. In this study, for the first time, peptides were used to improve"},
       {"ln":5,"c":0,"t":"stability of vitamin A acetate (VA) in OSA starch microcapsules. The"},
       {"ln":6,"c":0,"t":"objectives of this study were to use five peptides from different sources"},
       {"ln":7,"c":0,"t":"as additives in OSA starch microencapsulation systems and investigate"},
       {"ln":8,"c":0,"t":"the effects of peptides on improving the stability of VA. Furthermore, to"},
       {"ln":9,"c":0,"t":"broaden the applicability of using peptide in improving the stability of"},
       {"ln":10,"c":0,"t":"other nutrients, another fat-soluble vitamin, cholecalciferol, (vitamin"},
       {"ln":11,"c":0,"t":"D3, VD3), was evaluated."}]},
      "mark":{"type":"text","align":"left","baseline":"alphabetic","fontSize":36.5,"font":"Liberation Serif","color":"black"}},
     {"data":{"values":[{"ln":1,"c":0,"t":"Vitamin A is a fat-soluble vitamin, a nutrient important to healthy"}]},
      "mark":{"type":"text","align":"left","baseline":"alphabetic","fontSize":36.5,"font":"Liberation Serif","color":"black","dx":53}},
     {"data":{"values":[{"ln":3,"c":0,"t":"Blaner, 2020"}]},
      "mark":{"type":"text","align":"left","baseline":"alphabetic","fontSize":36.5,"font":"Liberation Serif","color":"#3DA9E0","dx":225}},
     {"data":{"values":[{"ln":3,"c":0,"t":"). However, its stability in foods is always a"}]},
      "mark":{"type":"text","align":"left","baseline":"alphabetic","fontSize":36.5,"font":"Liberation Serif","color":"black","dx":414}}
   ]},

  {"data":{"values":[{"ln":0,"c":0,"t":"2"}]},
   "mark":{"type":"text","align":"center","baseline":"alphabetic","fontSize":31,"font":"Liberation Serif","color":"black"},
   "encoding":{"y":{"field":"ln","type":"quantitative","scale":{"domain":[0,1],"range":[3175,3215]},"axis":null},
               "x":{"field":"c","type":"quantitative","scale":{"domain":[0,1],"range":[1240,2480]},"axis":null},
               "text":{"field":"t","type":"nominal"}}}
]
}
